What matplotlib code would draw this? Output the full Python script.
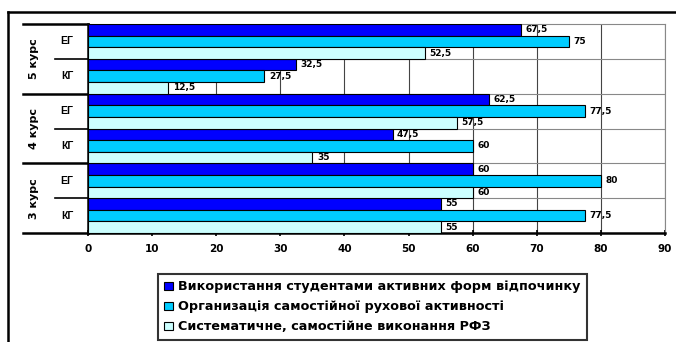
import numpy as np
import matplotlib
matplotlib.use("Agg")
import matplotlib.pyplot as plt
from matplotlib.lines import Line2D
from matplotlib.patches import Patch

plt.rcParams["font.family"] = ["Liberation Sans", "DejaVu Sans"]
plt.rcParams["font.weight"] = "bold"

# categories, top to bottom
courses = ["5 курс", "4 курс", "3 курс"]
groups = ["ЕГ", "КГ", "ЕГ", "КГ", "ЕГ", "КГ"]

series_names = [
    "Використання студентами активних форм відпочинку",
    "Организація самостійної рухової активності",
    "Систематичне, самостійне виконання РФЗ",
]
active_rest = [67.5, 32.5, 62.5, 47.5, 60, 55]
self_motor = [75, 27.5, 77.5, 60, 80, 77.5]
systematic = [52.5, 12.5, 57.5, 35, 60, 55]
series_colors = ["#0000FF", "#00CCFF", "#CCFFFF"]

x_ticks = list(range(0, 100, 10))


def fmt(v):
    s = f"{v:g}"
    return s.replace(".", ",")


W, H = 676, 342
fig = plt.figure(figsize=(W / 100, H / 100), dpi=100)
L, R, T, B = 88, 665, 24, 233
ax = fig.add_axes([L / W, 1 - B / H, (R - L) / W, (B - T) / H])

n = len(groups)
ypos = np.arange(n)
bh = 1 / 3
all_series = [active_rest, self_motor, systematic]
for k, (vals, col) in enumerate(zip(all_series, series_colors)):
    yy = ypos - 0.5 + bh * (k + 0.5)
    ax.barh(yy, vals, height=bh, color=col, edgecolor="black", linewidth=0.8, zorder=3)
    for y, v in zip(yy, vals):
        ax.text(v + 0.7, y, fmt(v), va="center", ha="left", fontsize=6.5,
                fontweight="bold", family="DejaVu Sans", zorder=4)

ax.set_xlim(0, 90)
ax.set_ylim(n - 0.5, -0.5)
ax.set_xticks(x_ticks)
ax.set_xticklabels([str(t) for t in x_ticks], fontsize=7.5, fontweight="bold",
                   family="DejaVu Sans")
ax.set_yticks([])
ax.tick_params(axis="x", direction="inout", length=4, width=1.2, pad=6)

# grid
for t in x_ticks[1:]:
    ax.axvline(t, color="#444444", lw=0.8, zorder=1)
for b in np.arange(0.5, n - 0.5, 1):
    ax.axhline(b, color="#888888", lw=0.8, zorder=1)

for s in ["top", "right"]:
    ax.spines[s].set_color("#888888")
    ax.spines[s].set_linewidth(0.8)
ax.spines["left"].set_linewidth(1.8)
ax.spines["bottom"].set_linewidth(1.8)

# category axis labels and separators
xa = lambda px: (px - L) / (R - L)
blend = ax.get_yaxis_transform()
for b in [-0.5, 1.5, 3.5, 5.5]:
    ax.add_line(Line2D([xa(23), 0], [b, b], transform=blend, color="black",
                       lw=1.8, clip_on=False))
for b in [0.5, 2.5, 4.5]:
    ax.add_line(Line2D([xa(55), 0], [b, b], transform=blend, color="black",
                       lw=1.2, clip_on=False))
for i, g in enumerate(groups):
    ax.text(xa(67), i, g, transform=blend, ha="center", va="center",
            fontsize=7.5, fontweight="bold", clip_on=False)
for j, c in enumerate(courses):
    ax.text(xa(34), 2 * j + 0.5, c, transform=blend, ha="center", va="center",
            rotation=90, fontsize=8, fontweight="bold", family="DejaVu Sans",
            clip_on=False)

# outer frame (top and left edges)
fig.add_artist(Line2D([8 / W, 1], [1 - 12 / H, 1 - 12 / H], transform=fig.transFigure,
                      color="black", lw=1.8))
fig.add_artist(Line2D([8 / W, 8 / W], [0, 1 - 12 / H], transform=fig.transFigure,
                      color="black", lw=1.8))

handles = [Patch(facecolor=c, edgecolor="black", lw=0.8) for c in series_colors]
leg = fig.legend(handles, series_names, loc="upper left",
                 bbox_to_anchor=(158 / W, 1 - 274 / H),
                 prop={"weight": "bold", "size": 9.2, "family": "DejaVu Sans"},
                 handlelength=0.65, handleheight=0.65, handletextpad=0.4,
                 labelspacing=0.55, borderpad=0.5, fancybox=False,
                 frameon=True, borderaxespad=0)
leg.get_frame().set_edgecolor("black")
leg.get_frame().set_linewidth(1.5)

fig.savefig("out.png", dpi=100)
